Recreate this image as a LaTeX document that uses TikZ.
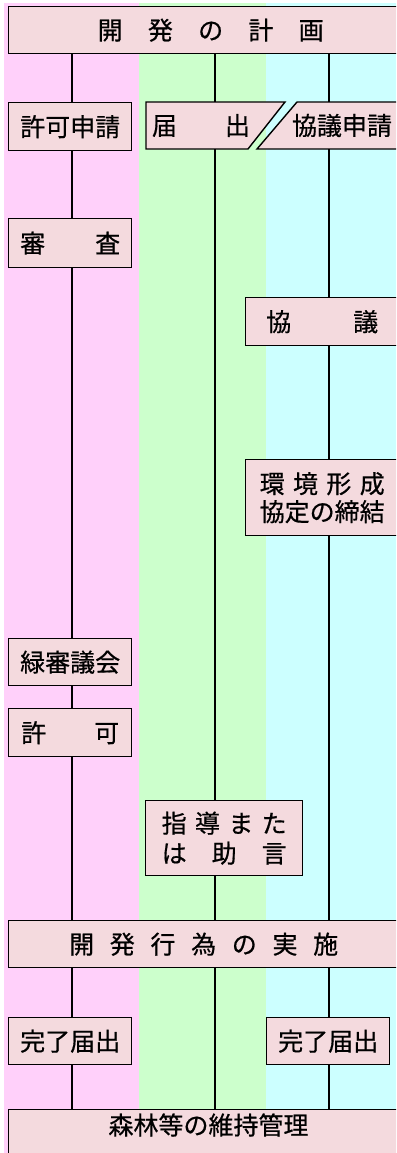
\documentclass[tikz,border=0pt]{standalone}
\usepackage{fontspec}
\newfontfamily\jp[FakeBold=0.6]{Noto Sans CJK JP}
\usetikzlibrary{positioning}
\definecolor{bandpink}{RGB}{255,208,250}
\definecolor{bandgreen}{RGB}{204,255,204}
\definecolor{bandcyan}{RGB}{204,255,255}
\definecolor{boxpink}{RGB}{244,218,222}
\newcommand{\wide}[2]{\makebox[#1]{#2}}
\tikzset{
  boxline/.style={draw=black, fill=boxpink, line width=1.4pt},
  box/.style={boxline, inner sep=0pt, minimum height=47pt, anchor=north west,
    font=\jp\fontsize{25pt}{28pt}\selectfont, align=center},
  boxtext/.style={inner sep=0pt, minimum height=47pt, font=\jp\fontsize{25pt}{28pt}\selectfont},
  link/.style={line width=1.1pt},
}

\begin{document}
\begin{tikzpicture}[x=1pt,y=-1pt]
    \useasboundingbox (0,0) rectangle (396,1153);
    \clip (0,0) rectangle (396,1153);
    % bands
    \fill[bandpink] (4,3) rectangle (139,1153);
    \fill[bandgreen] (139,3) rectangle (266,1153);
    \fill[bandcyan] (266,3) rectangle (396,1153);
    % columns
    \coordinate (colA) at (72,0);
    \coordinate (colB) at (215,0);
    \coordinate (colC) at (329,0);

    % boxes
    \node[box, minimum width=404pt] (plan) at (8,6) {\wide{226pt}{開\hfill 発\hfill の\hfill 計\hfill 画}};
    \node[box, minimum width=123pt, minimum height=48pt] (apply) at (8,102) {許可申請};
    \draw[boxline] (146,102) -- (285,102) -- (248,149) -- (146,149) -- cycle;
    \node[boxtext] (notice) at (201,125.5) {\wide{98pt}{届\hfill 出}};
    \draw[boxline] (297,102) -- (410,102) -- (410,149) -- (257,149) -- cycle;
    \node[boxtext] (consultreq) at (342,125.5) {協議申請};
    \node[box, minimum width=123pt, minimum height=49pt] (review) at (8,218) {\wide{100pt}{審\hfill 査}};
    \node[box, minimum width=153pt, minimum height=48pt] (consult) at (245,297) {\wide{112pt}{協\hfill 議}};
    \node[box, minimum width=153pt, minimum height=76pt] (pact) at (245,459)
        {\wide{125pt}{環\hfill 境\hfill 形\hfill 成}\\\wide{125pt}{協定の締結}};
    \node[box, minimum width=123pt] (council) at (8,638) {緑審議会};
    \node[box, minimum width=123pt, minimum height=48pt] (permit) at (8,708) {\wide{98pt}{許\hfill 可}};
    \node[box, minimum width=157pt, minimum height=75pt] (advice) at (145,800)
        {\wide{125pt}{指\hfill 導\hfill ま\hfill た}\\[2pt]\wide{125pt}{は\hfill 助\hfill 言}};
    \node[box, minimum width=390pt] (work) at (8,920) {\wide{269pt}{開\hfill 発\hfill 行\hfill 為\hfill の\hfill 実\hfill 施}};
    \node[box, minimum width=123pt] (doneA) at (8,1017) {完了届出};
    \node[box, minimum width=123pt] (doneC) at (266,1017) {完了届出};
    \node[box, minimum width=401pt, minimum height=60pt] (keep) at (8,1109) {};
    \node[boxtext] (keeptext) at (208.5,1125) {森林等の維持管理};

    % connectors
    \foreach \a/\b in {plan/apply, apply/review, review/council, council/permit, permit/work, work/doneA, doneA/keep}
        \draw[link] (\a.south -| colA) -- (\b.north -| colA);
    \foreach \a/\b in {plan/notice, notice/advice, advice/work, work/keep}
        \draw[link] (\a.south -| colB) -- (\b.north -| colB);
    \foreach \a/\b in {plan/consultreq, consultreq/consult, consult/pact, pact/work, work/doneC, doneC/keep}
        \draw[link] (\a.south -| colC) -- (\b.north -| colC);
\end{tikzpicture}
\end{document}
